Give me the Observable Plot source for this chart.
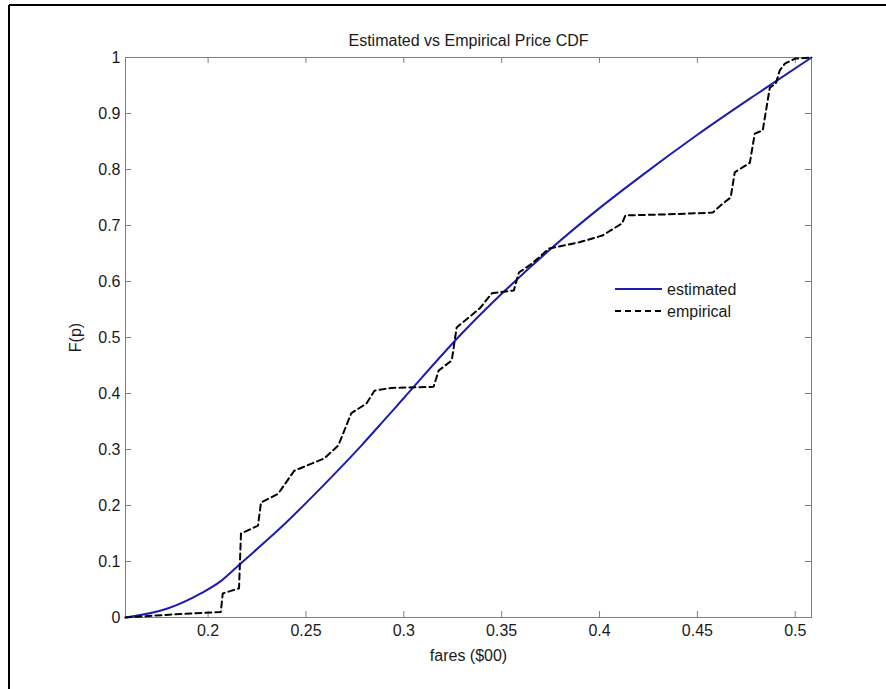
<!DOCTYPE html>
<html><head><meta charset="utf-8">
<script src="https://cdn.jsdelivr.net/npm/d3@7"></script>
<script src="https://cdn.jsdelivr.net/npm/@observablehq/plot@0.6"></script>
<style>
html,body{margin:0;padding:0;background:#fff;}
</style></head><body><div id="chart"></div>
<script>
const title = "Estimated vs Empirical Price CDF";
const xLabel = "fares ($00)";
const yLabel = "F(p)";
const seriesNames = ["estimated", "empirical"];

const xDomain = [0.1578, 0.5083];
const yDomain = [0, 1];
const xTicks = [0.2, 0.25, 0.3, 0.35, 0.4, 0.45, 0.5];
const yTicks = [0, 0.1, 0.2, 0.3, 0.4, 0.5, 0.6, 0.7, 0.8, 0.9, 1];

const estimatedPrice = [0.1578, 0.1793, 0.1963, 0.2065, 0.2168, 0.2373, 0.2578, 0.2783, 0.2886, 0.3, 0.3311, 0.35, 0.375, 0.40, 0.4219, 0.45, 0.48, 0.5083];
const estimatedF     = [0,      0.016,  0.043,  0.065,  0.097,  0.161,  0.232,  0.307,  0.347,  0.392, 0.5125, 0.578, 0.658, 0.731, 0.790, 0.862, 0.934, 1.0];

const empiricalPrice = [0.1578, 0.18, 0.2065, 0.2075, 0.2158, 0.2168, 0.2255, 0.227, 0.2358, 0.244, 0.2593, 0.2665, 0.2732, 0.2809, 0.285, 0.2937, 0.3152, 0.3178, 0.3245, 0.327, 0.3388, 0.345, 0.3562, 0.3588, 0.3655, 0.3742, 0.3773, 0.3896, 0.4014, 0.4116, 0.4132, 0.435, 0.4578, 0.4629, 0.467, 0.4691, 0.4768, 0.4793, 0.4834, 0.487, 0.4901, 0.4921, 0.4947, 0.5, 0.5083];
const empiricalF     = [0,      0.005, 0.010, 0.043, 0.052, 0.15, 0.164, 0.205, 0.221, 0.262, 0.284, 0.307, 0.365, 0.382, 0.405, 0.41, 0.412, 0.441, 0.459, 0.518, 0.552, 0.579, 0.584, 0.616, 0.632, 0.659, 0.661, 0.67, 0.682, 0.704, 0.718, 0.72, 0.723, 0.739, 0.75, 0.795, 0.812, 0.864, 0.87, 0.946, 0.954, 0.977, 0.989, 0.998, 1.0];

const estimated = estimatedPrice.map((p, i) => ({p, F: estimatedF[i]}));
const empirical = empiricalPrice.map((p, i) => ({p, F: empiricalF[i]}));

const W = 886, H = 689;
const mL = 125, mR = 75, mT = 57, mB = 72;
const pw = W - mL - mR, ph = H - mT - mB;
const axisColor = "#7f7f7f";
const textColor = "#1a1a1a";
const blue = "#1c1cb0";
const font = "'Liberation Sans', Arial, sans-serif";

const svg = Plot.plot({
  width: W, height: H,
  marginLeft: mL, marginRight: mR, marginTop: mT, marginBottom: mB,
  style: {fontFamily: font, fontSize: "16px", background: "#fff", color: textColor},
  x: {domain: xDomain},
  y: {domain: yDomain},
  marks: [
    Plot.gridX(xTicks, {insetTop: ph - 6, stroke: axisColor, strokeOpacity: 1}),
    Plot.gridX(xTicks, {insetBottom: ph - 6, stroke: axisColor, strokeOpacity: 1}),
    Plot.gridY(yTicks, {insetRight: pw - 6, stroke: axisColor, strokeOpacity: 1}),
    Plot.gridY(yTicks, {insetLeft: pw - 6, stroke: axisColor, strokeOpacity: 1}),
    Plot.frame({stroke: axisColor}),
    Plot.axisX(xTicks, {anchor: "bottom", tickSize: 0, tickPadding: 7, label: null, fontSize: 16, tickFormat: d => String(d)}),
    Plot.axisY(yTicks, {anchor: "left", tickSize: 0, tickPadding: 5, label: null, fontSize: 16, tickFormat: d => String(d)}),
    Plot.line(estimated, {x: "p", y: "F", stroke: blue, strokeWidth: 2, curve: "monotone-x"}),
    Plot.line(empirical, {x: "p", y: "F", stroke: "#000", strokeWidth: 2, strokeDasharray: "6,4"}),
    Plot.text([title], {frameAnchor: "top", lineAnchor: "middle", dy: -17, fontSize: 16, fill: textColor}),
    Plot.text([xLabel], {frameAnchor: "bottom", lineAnchor: "middle", dy: 38, fontSize: 16, fill: textColor}),
    Plot.text([yLabel], {frameAnchor: "left", textAnchor: "middle", lineAnchor: "middle", dx: -50, rotate: -90, fontSize: 16, fill: textColor})
  ]
});

const s = d3.select(svg);
// outer figure border (left and top visible)
s.append("line").attr("x1", 9).attr("y1", 5).attr("x2", 9).attr("y2", H).attr("stroke", "#000").attr("stroke-width", 2);
s.append("line").attr("x1", 9).attr("y1", 5).attr("x2", W).attr("y2", 5).attr("stroke", "#000").attr("stroke-width", 2);

// legend (no box)
const lg = s.append("g").attr("font-family", font).attr("font-size", 16).attr("text-anchor", "start");
const legendItems = [
  {name: seriesNames[0], stroke: blue, dash: null},
  {name: seriesNames[1], stroke: "#000", dash: "6,4"}
];
legendItems.forEach((d, i) => {
  const y = 289 + i * 22;
  lg.append("line").attr("x1", 615).attr("x2", 662).attr("y1", y).attr("y2", y)
    .attr("stroke", d.stroke).attr("stroke-width", 2).attr("stroke-dasharray", d.dash);
  lg.append("text").attr("x", 667).attr("y", y).attr("dy", "0.35em").attr("text-anchor", "start").attr("fill", textColor).text(d.name);
});

document.getElementById("chart").appendChild(svg);
</script></body></html>
